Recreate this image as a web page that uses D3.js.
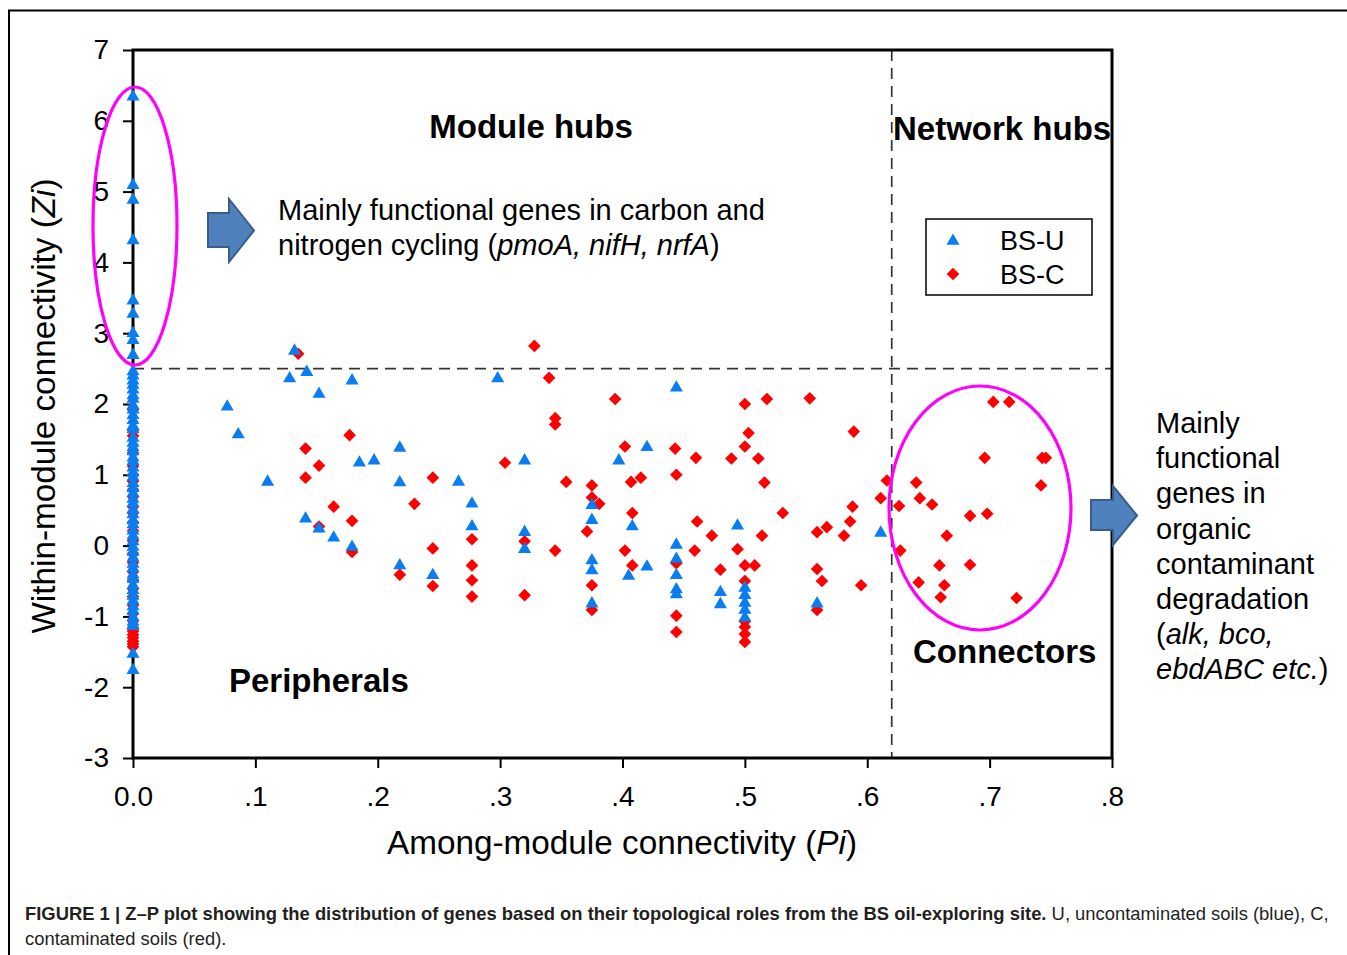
<!DOCTYPE html>
<html><head><meta charset="utf-8">
<script src="https://cdn.jsdelivr.net/npm/d3@7"></script>
<style>body{margin:0;background:#fff}svg{display:block}text{font-family:"Liberation Sans",Arial,sans-serif}</style>
</head><body><svg id="c" width="1347" height="955"></svg>
<script>
// ---------- data ----------
const xTicks = [0, 0.1, 0.2, 0.3, 0.4, 0.5, 0.6, 0.7, 0.8];
const xTickLabels = ["0.0", ".1", ".2", ".3", ".4", ".5", ".6", ".7", ".8"];
const yTicks = [7, 6, 5, 4, 3, 2, 1, 0, -1, -2, -3];
const yTickLabels = ["7", "6", "5", "4", "3", "2", "1", "0", "-1", "-2", "-3"];
const piThreshold = 0.62, ziThreshold = 2.5;

// BS-U (blue triangles): genes with Pi = 0 (Zi values only)
const bsuZeroPiZi = [
 6.34,5.09,4.88,4.31,3.46,3.27,3.0,2.9,2.69,
 2.46,2.4,2.33,2.27,2.2,2.12,2.07,1.98,1.92,1.84,1.77,1.69,1.64,1.52,1.45,1.39,1.33,1.24,1.19,1.1,
 1.03,0.97,0.88,0.81,0.74,0.66,0.6,0.51,0.44,0.36,0.3,0.21,0.14,0.06,-0.02,-0.09,-0.17,-0.26,-0.32,-0.41,
 -0.47,-0.56,-0.63,-0.71,-0.78,-0.86,-0.92,-1.01,-1.08,-1.14,
 -1.53,-1.76
];
// BS-U genes with Pi > 0
const bsuPi = [
 0.132,0.142,0.128,0.179,0.152,0.077,0.086,0.218,0.185,0.197,0.110,0.218,0.141,0.152,0.164,0.179,0.218,0.245,
 0.298,0.444,0.420,0.320,0.397,0.266,0.375,0.277,0.375,0.277,0.408,0.320,0.320,0.444,0.375,0.444,0.420,0.375,0.405,0.444,0.444,0.444,0.375,
 0.494,0.611,0.480,0.480,0.500,0.500,0.500,0.500,0.500,0.559
];
const bsuZi = [
 2.75,2.45,2.36,2.33,2.14,1.96,1.57,1.38,1.17,1.2,0.9,0.89,0.38,0.24,0.11,-0.02,-0.28,-0.42,
 2.36,2.23,1.39,1.2,1.2,0.9,0.57,0.59,0.36,0.27,0.27,0.19,-0.05,0.01,-0.21,-0.19,-0.3,-0.35,-0.43,-0.42,-0.62,-0.69,-0.82,
 0.28,0.18,-0.66,-0.83,-0.6,-0.7,-0.81,-0.91,-1.02,-0.82
];
// BS-C (red diamonds): genes with Pi = 0 (Zi values only)
const bscZeroPiZi = [
 1.92,1.63,1.55,1.31,1.12,1.0,0.91,0.79,0.69,0.55,0.46,0.33,0.21,0.07,-0.11,-0.24,-0.37,-0.49,-0.61,-0.72,
 -0.84,-0.96,-1.06,-1.16,-1.21,-1.26,-1.3,-1.35,-1.39,-1.43
];
// BS-C genes with Pi > 0
const bscPi = [
 0.135,0.177,0.141,0.152,0.141,0.245,0.230,0.164,0.179,0.152,0.179,0.245,0.218,0.245,
 0.328,0.340,0.394,0.345,0.345,0.402,0.443,0.304,0.444,0.354,0.375,0.407,0.415,0.375,0.381,0.408,0.371,0.277,0.320,0.345,0.402,0.444,0.408,0.277,0.277,0.375,0.277,0.320,0.375,0.444,0.444,
 0.518,0.500,0.553,0.503,0.589,0.500,0.460,0.489,0.511,0.516,0.616,0.611,0.531,0.588,0.461,0.586,0.473,0.514,0.559,0.567,0.581,0.459,0.494,0.480,0.500,0.508,0.559,0.563,0.595,0.500,0.559,0.500,0.500,0.500,0.500,
 0.703,0.716,0.696,0.743,0.746,0.742,0.640,0.643,0.653,0.626,0.684,0.698,0.665,0.627,0.659,0.684,0.642,0.663,0.660,0.722
];
const bscZi = [
 2.71,1.56,1.37,1.13,0.96,0.96,0.59,0.55,0.35,0.27,-0.09,-0.04,-0.41,-0.57,
 2.82,2.37,2.07,1.8,1.71,1.4,1.37,1.17,1.0,0.9,0.85,0.9,0.96,0.68,0.59,0.46,0.2,0.09,0.06,-0.07,-0.07,-0.25,-0.28,-0.28,-0.49,-0.56,-0.72,-0.7,-0.91,-0.99,-1.22,
 2.07,2.0,2.08,1.59,1.61,1.4,1.24,1.23,1.23,0.89,0.92,0.67,0.46,0.55,0.34,0.34,0.14,0.14,0.19,0.26,0.14,-0.07,-0.05,-0.34,-0.28,-0.28,-0.33,-0.5,-0.56,-0.5,-0.91,-1.15,-1.25,-1.36,-1.07,
 2.03,2.03,1.24,1.24,1.24,0.85,0.89,0.67,0.58,0.56,0.42,0.45,0.14,-0.07,-0.28,-0.27,-0.52,-0.56,-0.73,-0.74
];
const seriesNames = ["BS-U", "BS-C"];
const seriesColors = ["#0A7DF0", "#FF0000"];

// ---------- drawing ----------
const svg = d3.select("#c");
svg.append("rect").attr("width",1347).attr("height",955).attr("fill","#fff");
svg.append("path").attr("d","M9,955 V10.5 H1347").attr("fill","none").attr("stroke","#000").attr("stroke-width",2);

const x = d3.scaleLinear().domain([0,0.8]).range([133,1112]);
const y = d3.scaleLinear().domain([-3,7]).range([758,50]);

// thresholds (dashed)
svg.append("line").attr("x1",x(0)).attr("x2",x(0.8)).attr("y1",y(ziThreshold)).attr("y2",y(ziThreshold))
  .attr("stroke","#333").attr("stroke-width",1.7).attr("stroke-dasharray","11,7");
svg.append("line").attr("x1",x(piThreshold)).attr("x2",x(piThreshold)).attr("y1",y(7)).attr("y2",y(-3))
  .attr("stroke","#333").attr("stroke-width",1.7).attr("stroke-dasharray","11,7");

// axes
const fontTick = 28;
const xAxis = svg.append("g").attr("transform",`translate(0,${y(-3)})`)
  .call(d3.axisBottom(x).tickValues(xTicks).tickFormat((d,i)=>xTickLabels[i]).tickSize(10).tickPadding(18));
const yAxis = svg.append("g").attr("transform",`translate(${x(0)},0)`)
  .call(d3.axisLeft(y).tickValues(yTicks).tickFormat((d,i)=>yTickLabels[i]).tickSize(10).tickPadding(14));
[xAxis,yAxis].forEach(g=>{
  g.select(".domain").remove();
  g.selectAll(".tick line").attr("stroke","#000").attr("stroke-width",2);
  g.selectAll(".tick text").attr("fill","#000").style("font-size",fontTick+"px").style("font-family","Liberation Sans, Arial, sans-serif");
});
svg.append("rect").attr("x",x(0)).attr("y",y(7)).attr("width",x(0.8)-x(0)).attr("height",y(-3)-y(7))
  .attr("fill","none").attr("stroke","#000").attr("stroke-width",3);

// points
const tri = d3.symbol().type(d3.symbolTriangle).size(74)();
const dia = d3.symbol().type(d3.symbolSquare).size(80)();
const redPts = bscZeroPiZi.map(z=>({p:0, z})).concat(bscPi.map((p,i)=>({p, z: bscZi[i]})));
const bluePts = bsuZeroPiZi.map(z=>({p:0, z})).concat(bsuPi.map((p,i)=>({p, z: bsuZi[i]})));
svg.append("g").selectAll("path").data(redPts).join("path")
  .attr("d",dia).attr("fill",seriesColors[1])
  .attr("transform",d=>`translate(${x(d.p)},${y(d.z)}) rotate(45)`);
svg.append("g").selectAll("path").data(bluePts).join("path")
  .attr("d",tri).attr("fill",seriesColors[0])
  .attr("transform",d=>`translate(${x(d.p)},${y(d.z)})`);

// ellipses
svg.append("ellipse").attr("cx",135).attr("cy",226).attr("rx",42).attr("ry",139)
  .attr("fill","none").attr("stroke","#FF00FF").attr("stroke-width",3.2);
svg.append("ellipse").attr("cx",980).attr("cy",508).attr("rx",91).attr("ry",122)
  .attr("fill","none").attr("stroke","#FF00FF").attr("stroke-width",3.2);

// block arrows
function arrow(x0,bodyTop,bodyBot,headX,headTop,headBot,tipX){
  const tipY=(headTop+headBot)/2;
  return `M${x0},${bodyTop} H${headX} V${headTop} L${tipX},${tipY} L${headX},${headBot} V${bodyBot} H${x0} Z`;
}
svg.append("path").attr("d",arrow(208,213,247,229,199,262,254))
  .attr("fill","#4F81BD").attr("stroke","#385D8A").attr("stroke-width",2);
svg.append("path").attr("d",arrow(1091,500,530,1113,486,545,1137))
  .attr("fill","#4F81BD").attr("stroke","#385D8A").attr("stroke-width",2);

// region labels
function bold(t,xx,yy,anchor){
  svg.append("text").attr("x",xx).attr("y",yy).attr("text-anchor",anchor||"start")
    .style("font-size","33px").style("font-weight","bold").attr("fill","#000").text(t);
}
bold("Module hubs",531,138,"middle");
bold("Network hubs",893,140);
bold("Peripherals",229,692);
bold("Connectors",913,663);

// annotation top
const aSize = "29px";
svg.append("text").attr("x",278).attr("y",220).style("font-size",aSize).attr("fill","#000")
  .text("Mainly functional genes in carbon and");
const a2 = svg.append("text").attr("x",278).attr("y",255).style("font-size",aSize).attr("fill","#000");
a2.append("tspan").text("nitrogen cycling (");
a2.append("tspan").style("font-style","italic").text("pmoA, nifH, nrfA");
a2.append("tspan").text(")");

// annotation right
const rLines = ["Mainly","functional","genes in","organic","contaminant","degradation"];
rLines.forEach((t,i)=>{
  svg.append("text").attr("x",1156).attr("y",433+i*35.2).style("font-size",aSize).attr("fill","#000").text(t);
});
const r7 = svg.append("text").attr("x",1156).attr("y",433+6*35.2).style("font-size",aSize).attr("fill","#000");
r7.append("tspan").text("(");
r7.append("tspan").style("font-style","italic").text("alk, bco,");
const r8 = svg.append("text").attr("x",1156).attr("y",433+7*35.2).style("font-size",aSize).attr("fill","#000");
r8.append("tspan").style("font-style","italic").text("ebdABC etc.");
r8.append("tspan").text(")");

// legend
svg.append("rect").attr("x",926).attr("y",219).attr("width",166).attr("height",76)
  .attr("fill","#fff").attr("stroke","#000").attr("stroke-width",1.5);
svg.append("path").attr("d",tri).attr("fill",seriesColors[0]).attr("transform","translate(953,241)");
svg.append("path").attr("d",dia).attr("fill",seriesColors[1]).attr("transform","translate(953,274) rotate(45)");
svg.append("text").attr("x",1000).attr("y",250).style("font-size","27px").attr("fill","#000").text(seriesNames[0]);
svg.append("text").attr("x",1000).attr("y",284).style("font-size","27px").attr("fill","#000").text(seriesNames[1]);

// axis titles
const yl = svg.append("text").attr("transform","translate(55,406) rotate(-90)").attr("text-anchor","middle")
  .style("font-size","33.3px").attr("fill","#000");
yl.append("tspan").text("Within-module connectivity (");
yl.append("tspan").style("font-style","italic").text("Zi");
yl.append("tspan").text(")");
const xl = svg.append("text").attr("x",622).attr("y",854).attr("text-anchor","middle")
  .style("font-size","33.3px").attr("fill","#000");
xl.append("tspan").text("Among-module connectivity (");
xl.append("tspan").style("font-style","italic").text("Pi");
xl.append("tspan").text(")");

// caption
const c1 = svg.append("text").attr("x",25).attr("y",920).style("font-size","18.4px").attr("fill","#231F20");
c1.append("tspan").style("font-weight","bold").text("FIGURE 1 | Z–P plot showing the distribution of genes based on their topological roles from the BS oil-exploring site.");
c1.append("tspan").text(" U, uncontaminated soils (blue), C,");
svg.append("text").attr("x",25).attr("y",945).style("font-size","18.4px").attr("fill","#231F20").text("contaminated soils (red).");
</script></body></html>
